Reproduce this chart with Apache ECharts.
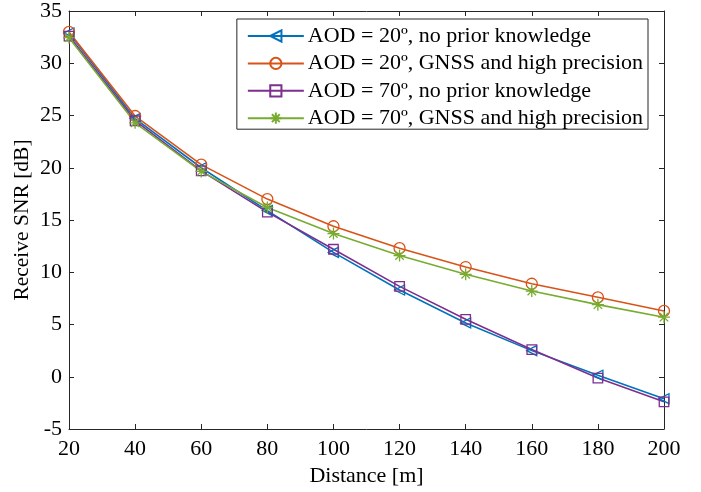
<!DOCTYPE html>
<html><head><meta charset="utf-8">
<script src="https://cdn.jsdelivr.net/npm/echarts@6/dist/echarts.min.js"></script>
<style>html,body{margin:0;padding:0;background:#fff}#c{width:701px;height:492px}</style>
</head><body><div id="c"></div>
<script>
const distances = [20, 40, 60, 80, 100, 120, 140, 160, 180, 200];
const aod20NoPrior = [32.9, 24.7, 20.0, 15.9, 11.9, 8.3, 5.15, 2.5, 0.15, -2.1];
const aod20Gnss    = [33.0, 24.95, 20.3, 17.0, 14.4, 12.3, 10.5, 8.9, 7.6, 6.3];
const aod70NoPrior = [32.6, 24.5, 19.7, 15.75, 12.2, 8.65, 5.5, 2.6, -0.13, -2.4];
const aod70Gnss    = [32.45, 24.3, 19.65, 16.2, 13.7, 11.6, 9.8, 8.2, 6.9, 5.7];
const seriesNames = ['AOD = 20º, no prior knowledge','AOD = 20º, GNSS and high precision','AOD = 70º, no prior knowledge','AOD = 70º, GNSS and high precision'];
const yTicks = [-5, 0, 5, 10, 15, 20, 25, 30, 35];

const colors = ['#0072BD','#D95319','#7E2F8E','#77AC30'];
const symbols = [
  'path://M0,5L9,0L9,10Z',
  'circle',
  'rect',
  'path://M5,0L5,10M0,5L10,5M1.5,1.5L8.5,8.5M1.5,8.5L8.5,1.5'
];
const sizes = [10, 11, 9.5, 12];
const datas = [aod20NoPrior, aod20Gnss, aod70NoPrior, aod70Gnss];
const font = 'Liberation Serif';

const chart = echarts.init(document.getElementById('c'), null, {renderer:'canvas'});
const axisCommon = {
  axisLine:{show:true, onZero:false, lineStyle:{color:'#262626', width:1}},
  axisTick:{show:true, inside:true, length:5, lineStyle:{color:'#262626'}},
  splitLine:{show:false}
};
chart.setOption({
  animation:false,
  backgroundColor:'#fff',
  grid:{left:69, top:10, right:37, bottom:63, containLabel:false},
  legend:{
    orient:'vertical', right:53, top:19,
    backgroundColor:'#fff', borderColor:'#262626', borderWidth:1,
    padding:[6,5,0,10], itemGap:5.4, itemWidth:56, itemHeight:14,
    textStyle:{fontFamily:font, fontSize:22, color:'#000', padding:[0,0,0,-1]},
    data:seriesNames
  },
  xAxis:[
    Object.assign({type:'value', min:20, max:200, interval:20,
      name:'Distance [m]', nameLocation:'middle', nameGap:36, nameMoveOverlap:false,
      nameTextStyle:{fontFamily:font, fontSize:22, color:'#000'},
      axisLabel:{fontFamily:font, fontSize:22, color:'#000', margin:9}}, axisCommon),
    Object.assign({type:'value', position:'top', min:20, max:200, interval:20,
      axisLabel:{show:false}}, axisCommon)
  ],
  yAxis:[
    Object.assign({type:'value', min:-5, max:35, interval:5,
      name:'Receive SNR [dB]', nameLocation:'middle', nameGap:36, nameMoveOverlap:false,
      nameTextStyle:{fontFamily:font, fontSize:21.5, color:'#000'},
      axisLabel:{fontFamily:font, fontSize:22, color:'#000', margin:7,
        formatter: v => yTicks.includes(v) ? String(v) : ''}}, axisCommon),
    Object.assign({type:'value', position:'right', min:-5, max:35, interval:5,
      axisLabel:{show:false}}, axisCommon)
  ],
  series: datas.map((d,i)=>({
    name:seriesNames[i], type:'line',
    data: distances.map((x,j)=>[x,d[j]]),
    symbol:symbols[i], symbolSize:sizes[i], showSymbol:true,
    lineStyle:{color:colors[i], width:1.6},
    itemStyle:{color:'none', borderColor:colors[i], borderWidth:1.3},
    emphasis:{disabled:true}
  }))
});
</script></body></html>
